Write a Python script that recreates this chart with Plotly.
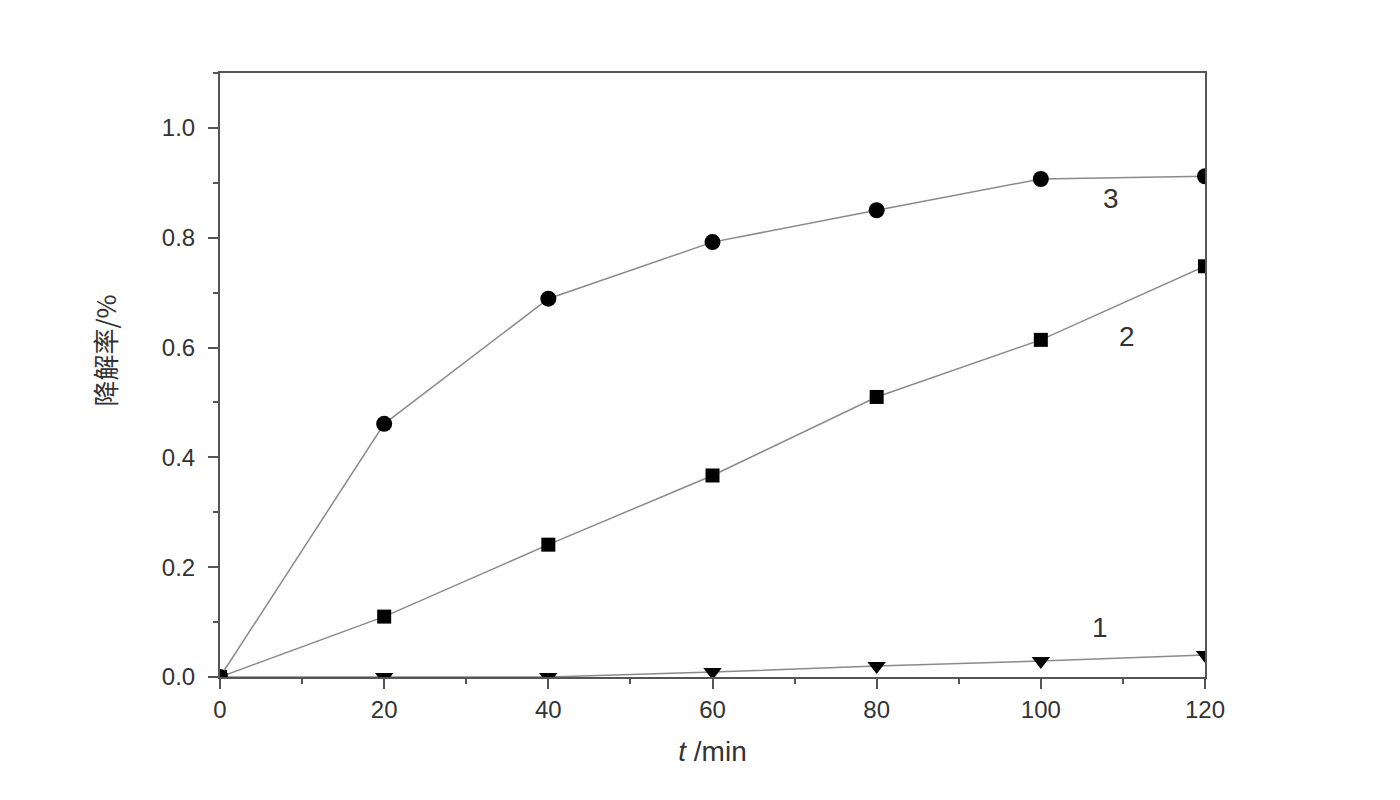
import plotly.graph_objects as go

t = [0, 20, 40, 60, 80, 100, 120]
s1 = [0, 0.0, 0.0, 0.009, 0.02, 0.029, 0.04]
s2 = [0, 0.110, 0.241, 0.367, 0.510, 0.614, 0.748]
s3 = [0, 0.461, 0.689, 0.792, 0.850, 0.907, 0.912]
labels = ["1", "2", "3"]
label_x = [107.2, 110.5, 108.6]
label_y = [0.091, 0.62, 0.872]

line_col = "#8a8a8a"
axis_col = "#555555"
text_col = "#333333"
FONT = "Arial, Liberation Sans"

fig = go.Figure()
for ys, sym in [(s1, "triangle-down"), (s2, "square"), (s3, "circle")]:
    fig.add_trace(go.Scatter(
        x=t, y=ys, mode="lines+markers",
        line=dict(color=line_col, width=1.5),
        marker=dict(symbol=sym, size=16 if sym != "square" else 14, color="black"),
        cliponaxis=True, showlegend=False))

for lab, lx, ly in zip(labels, label_x, label_y):
    fig.add_annotation(x=lx, y=ly, text=lab, showarrow=False,
                       font=dict(size=28, color=text_col, family=FONT))

# y-axis title placed as rotated annotation
fig.add_annotation(xref="paper", yref="paper", x=-0.117, y=0.54,
                   text="降解率/%", textangle=-90, showarrow=False,
                   xanchor="center", yanchor="middle",
                   font=dict(size=26, color=text_col, family="Noto Sans CJK SC"))

fig.update_layout(
    width=1400, height=800,
    margin=dict(l=220, r=195, t=73, b=123),
    paper_bgcolor="white", plot_bgcolor="white",
    font=dict(family=FONT, color=text_col, size=24),
    xaxis=dict(range=[0, 120], tickvals=[0, 20, 40, 60, 80, 100, 120],
               ticks="outside", ticklen=10, tickwidth=2, tickcolor=axis_col,
               minor=dict(dtick=10, ticks="outside", ticklen=5, tickwidth=2, tickcolor=axis_col),
               showline=True, linecolor=axis_col, linewidth=2, mirror=True,
               showgrid=False, zeroline=False,
               tickfont=dict(size=24, color=text_col),
               title=dict(text="<i>t</i> /min", font=dict(size=28, color=text_col), standoff=20)),
    yaxis=dict(range=[0, 1.1], tickvals=[0, 0.2, 0.4, 0.6, 0.8, 1.0],
               ticktext=["0.0", "0.2", "0.4", "0.6", "0.8", "1.0"],
               ticks="outside", ticklen=10, tickwidth=2, tickcolor=axis_col,
               minor=dict(dtick=0.1, tick0=0, ticks="outside", ticklen=5, tickwidth=2, tickcolor=axis_col),
               showline=True, linecolor=axis_col, linewidth=2, mirror=True,
               showgrid=False, zeroline=False, ticklabelstandoff=8,
               tickfont=dict(size=24, color=text_col)),
)

fig.write_html("out.html")
